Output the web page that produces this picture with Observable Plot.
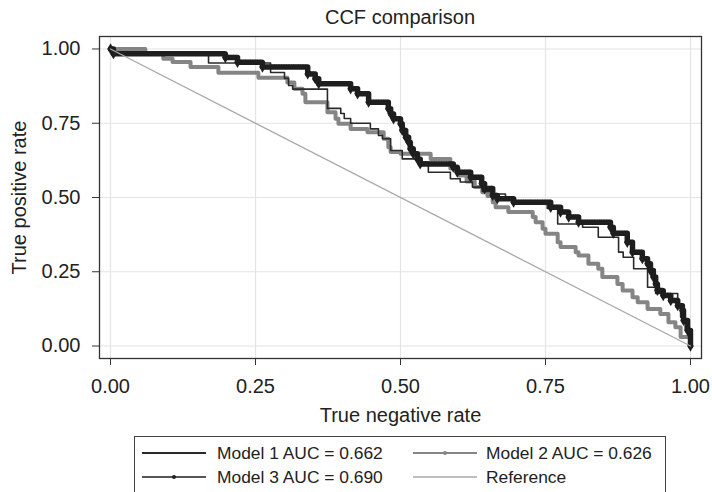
<!DOCTYPE html>
<html><head><meta charset="utf-8">
<script src="https://cdn.jsdelivr.net/npm/d3@7"></script>
<script src="https://cdn.jsdelivr.net/npm/@observablehq/plot@0.6"></script>
<style>
body{margin:0;background:#fff;font-family:"Liberation Sans",Arial,sans-serif;color:#222;}
#wrap{position:relative;width:712px;height:492px;overflow:hidden;}
#chart{position:absolute;left:0;top:0;}
#title{position:absolute;left:99px;width:602px;top:7px;text-align:center;font-size:20px;line-height:20px;}
#legend{position:absolute;left:134px;top:436px;width:532px;height:80px;border:1.3px solid #444;box-sizing:border-box;}
.li{position:absolute;font-size:17.4px;line-height:20px;white-space:nowrap;}
.sw{position:absolute;}
</style>
</head><body>
<div id="wrap">
  <div id="chart"></div>
  <div id="title"></div>
  <div id="legend"></div>
</div>
<script>
// ---- data ----
const titleText = "CCF comparison";
const xLabel = "True negative rate";
const yLabel = "True positive rate";
const xTicks = [0, 0.25, 0.5, 0.75, 1];
const yTicks = [0, 0.25, 0.5, 0.75, 1];

const model1Tnr = [0,0.005,0.169,0.276,0.300,0.307,0.314,0.374,0.397,0.403,0.414,0.448,0.462,0.469,0.483,0.503,0.529,0.548,0.586,0.603,0.624,0.641,0.655,0.681,0.695,0.753,0.771,0.814,0.841,0.876,0.884,0.902,0.926,0.940,0.978,0.983,0.991,1];
const model1Tpr = [1,0.984,0.953,0.921,0.901,0.877,0.865,0.800,0.783,0.766,0.750,0.731,0.709,0.698,0.658,0.630,0.619,0.585,0.563,0.552,0.535,0.520,0.512,0.496,0.484,0.463,0.411,0.400,0.366,0.316,0.299,0.260,0.198,0.177,0.131,0.097,0.052,0];

const model2Tnr = [0,0.060,0.091,0.107,0.138,0.186,0.255,0.305,0.317,0.331,0.336,0.374,0.388,0.393,0.414,0.443,0.471,0.479,0.483,0.500,0.552,0.586,0.600,0.614,0.628,0.641,0.650,0.659,0.664,0.686,0.728,0.733,0.745,0.750,0.771,0.776,0.802,0.807,0.824,0.841,0.848,0.874,0.883,0.900,0.909,0.926,0.948,0.962,0.974,0.983,1];
const model2Tpr = [1,0.984,0.967,0.956,0.939,0.920,0.903,0.887,0.866,0.849,0.821,0.787,0.765,0.748,0.731,0.720,0.698,0.669,0.653,0.647,0.630,0.598,0.574,0.554,0.535,0.518,0.505,0.484,0.467,0.451,0.434,0.417,0.395,0.378,0.349,0.333,0.316,0.305,0.277,0.260,0.232,0.209,0.187,0.164,0.147,0.125,0.108,0.080,0.063,0.030,0];

const model3Tnr = [0,0.005,0.198,0.219,0.262,0.340,0.353,0.359,0.414,0.426,0.445,0.479,0.483,0.488,0.500,0.503,0.509,0.514,0.517,0.522,0.529,0.534,0.591,0.598,0.621,0.640,0.645,0.659,0.667,0.695,0.759,0.776,0.790,0.807,0.862,0.867,0.891,0.900,0.917,0.926,0.931,0.936,0.940,0.943,0.953,0.966,0.978,0.986,0.988,0.995,1];
const model3Tpr = [1,0.984,0.971,0.955,0.939,0.916,0.900,0.883,0.866,0.849,0.821,0.799,0.782,0.765,0.748,0.726,0.703,0.686,0.664,0.647,0.630,0.613,0.602,0.585,0.568,0.547,0.530,0.507,0.496,0.484,0.467,0.451,0.434,0.417,0.400,0.380,0.349,0.316,0.294,0.277,0.254,0.232,0.209,0.187,0.170,0.153,0.136,0.120,0.086,0.052,0];

const refTnr = [0, 1];
const refTpr = [1, 0];

const legendLabels = ["Model 1 AUC = 0.662", "Model 2 AUC = 0.626", "Model 3 AUC = 0.690", "Reference"];

// ---- build ----
const pts = (xs, ys) => xs.map((x, i) => ({x, y: ys[i]}));
const m1 = pts(model1Tnr, model1Tpr);
const m2 = pts(model2Tnr, model2Tpr);
const m3 = pts(model3Tnr, model3Tpr);
const ref = pts(refTnr, refTpr);

const C1 = "#2a2a2a", C2 = "#858585", C3 = "#1e1e1e", CR = "#a8a8a8";

const chart = Plot.plot({
  width: 712,
  height: 440,
  marginLeft: 99,
  marginRight: 11,
  marginTop: 36,
  marginBottom: 82,
  style: {fontFamily: "'Liberation Sans', Arial, sans-serif", fontSize: "20px", color: "#222", background: "transparent"},
  x: {domain: [-0.019, 1.019]},
  y: {domain: [-0.042, 1.042]},
  marks: [
    Plot.gridX(xTicks, {stroke: "#e4e4e4", strokeOpacity: 1, strokeWidth: 1.2}),
    Plot.gridY(yTicks, {stroke: "#e4e4e4", strokeOpacity: 1, strokeWidth: 1.2}),
    Plot.line(m2, {x: "x", y: "y", curve: "step-after", stroke: C2, strokeWidth: 4}),
    Plot.line(m1, {x: "x", y: "y", curve: "step-after", stroke: C1, strokeWidth: 1.6}),
    Plot.line(m3, {x: "x", y: "y", curve: "step-after", stroke: C3, strokeWidth: 5.5, strokeDasharray: "1.7 0.7"}),
    Plot.dot(m3, {x: "x", y: "y", symbol: "diamond", r: 3.4, fill: C3, stroke: "none"}),
    Plot.line(ref, {x: "x", y: "y", stroke: CR, strokeWidth: 1.3}),
    Plot.frame({stroke: "#333", strokeWidth: 1.3}),
    Plot.axisX(xTicks, {tickSize: 7, tickPadding: 13, tickFormat: d3.format(".2f"), label: xLabel, labelAnchor: "center", labelOffset: 63, labelArrow: "none", stroke: "#333"}),
    Plot.axisY(yTicks, {tickSize: 7, tickPadding: 12, tickFormat: d3.format(".2f"), label: yLabel, labelAnchor: "center", labelOffset: 88, labelArrow: "none", stroke: "#333"})
  ]
});
document.getElementById("chart").appendChild(chart);
document.getElementById("title").textContent = titleText;

// ---- legend ----
const legend = document.getElementById("legend");
const bx = 134, by = 436;
const items = [
  {label: legendLabels[0], lx: 141, tx: 216, row: 452, stroke: C1, sw: 1.8, dot: false},
  {label: legendLabels[1], lx: 412, tx: 485, row: 452, stroke: C2, sw: 1.8, dot: true},
  {label: legendLabels[2], lx: 141, tx: 216, row: 476, stroke: C3, sw: 1.3, dot: true},
  {label: legendLabels[3], lx: 412, tx: 485, row: 476, stroke: CR, sw: 1.3, dot: false}
];
for (const it of items) {
  const s = document.createElementNS("http://www.w3.org/2000/svg", "svg");
  s.setAttribute("width", 64); s.setAttribute("height", 10);
  s.setAttribute("class", "sw");
  s.style.left = (it.lx - bx) + "px";
  s.style.top = (it.row - 5 - by) + "px";
  s.innerHTML = `<line x1="0" x2="64" y1="5" y2="5" stroke="${it.stroke}" stroke-width="${it.sw}"/>` +
    (it.dot ? `<circle cx="32" cy="5" r="2" fill="${it.stroke}"/>` : "");
  legend.appendChild(s);
  const t = document.createElement("div");
  t.className = "li";
  t.textContent = it.label;
  t.style.left = (it.tx - bx) + "px";
  t.style.top = (it.row - 10 - by) + "px";
  legend.appendChild(t);
}
</script>
</body></html>
